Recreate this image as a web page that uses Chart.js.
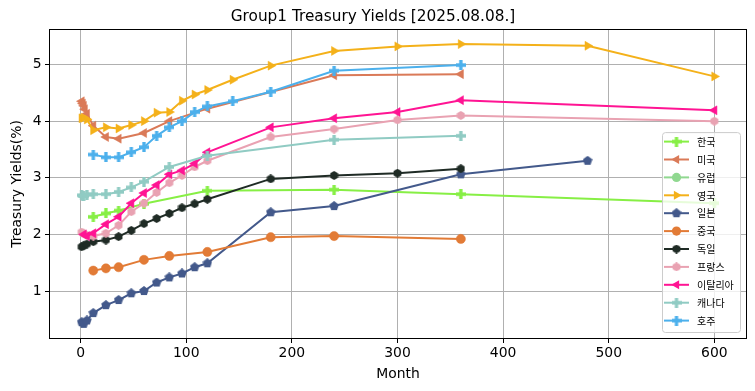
<!DOCTYPE html>
<html>
<head>
<meta charset="utf-8">
<script src="https://cdn.jsdelivr.net/npm/chart.js@4.4.1/dist/chart.umd.min.js"></script>
<style>
  html, body { margin: 0; padding: 0; background: #fff; }
  #wrap { width: 755px; height: 391px; }
</style>
</head>
<body>
<div id="wrap"><canvas id="myChart" width="755" height="391"></canvas></div>
<script>
// maturities (months) and yields (%) per country
const krMonths = [12, 24, 36, 60, 120, 240, 360, 600];
const krYields = [2.31, 2.37, 2.42, 2.54, 2.77, 2.79, 2.71, 2.55];

const usMonths = [1, 2, 3, 4, 6, 12, 24, 36, 60, 84, 120, 240, 360];
const usYields = [4.35, 4.31, 4.27, 4.21, 4.13, 3.92, 3.72, 3.69, 3.79, 4.0, 4.22, 4.81, 4.83];

const euMonths = [];
const euYields = [];

const ukMonths = [1, 3, 6, 12, 24, 36, 48, 60, 72, 84, 96, 108, 120, 144, 180, 240, 300, 360, 480, 600];
const ukYields = [4.05, 4.06, 4.03, 3.84, 3.89, 3.87, 3.93, 4.0, 4.15, 4.16, 4.36, 4.47, 4.55, 4.73, 4.98, 5.24, 5.32, 5.36, 5.33, 4.79];

const jpMonths = [1, 3, 6, 12, 24, 36, 48, 60, 72, 84, 96, 108, 120, 180, 240, 360, 480];
const jpYields = [0.45, 0.42, 0.48, 0.61, 0.75, 0.84, 0.96, 1.0, 1.15, 1.24, 1.31, 1.42, 1.49, 2.39, 2.5, 3.06, 3.3];

const cnMonths = [12, 24, 36, 60, 84, 120, 180, 240, 360];
const cnYields = [1.36, 1.40, 1.42, 1.55, 1.62, 1.69, 1.95, 1.97, 1.92];

const deMonths = [1, 3, 6, 12, 24, 36, 48, 60, 72, 84, 96, 108, 120, 180, 240, 300, 360];
const deYields = [1.78, 1.80, 1.83, 1.87, 1.90, 1.96, 2.07, 2.19, 2.28, 2.37, 2.47, 2.54, 2.62, 2.98, 3.04, 3.08, 3.16];

const frMonths = [1, 3, 6, 12, 24, 36, 48, 60, 72, 84, 96, 108, 120, 180, 240, 300, 360, 600];
const frYields = [2.04, 2.01, 1.98, 1.97, 2.02, 2.16, 2.4, 2.55, 2.74, 2.91, 3.04, 3.19, 3.3, 3.72, 3.86, 4.02, 4.1, 4.0];

const itMonths = [3, 6, 12, 24, 36, 48, 60, 72, 84, 96, 108, 120, 180, 240, 300, 360, 600];
const itYields = [2.0, 1.97, 2.02, 2.18, 2.31, 2.55, 2.73, 2.87, 3.06, 3.13, 3.25, 3.45, 3.89, 4.05, 4.16, 4.37, 4.19];

const caMonths = [1, 2, 3, 6, 12, 24, 36, 48, 60, 84, 120, 240, 360];
const caYields = [2.69, 2.68, 2.68, 2.7, 2.71, 2.71, 2.75, 2.83, 2.93, 3.19, 3.39, 3.67, 3.74];

const auMonths = [12, 24, 36, 48, 60, 72, 84, 96, 108, 120, 144, 180, 240, 360];
const auYields = [3.41, 3.36, 3.36, 3.45, 3.54, 3.74, 3.89, 4.0, 4.16, 4.26, 4.35, 4.52, 4.89, 4.99];

const yTicks = [1, 2, 3, 4, 5];
const xTicks = [0, 100, 200, 300, 400, 500, 600];

// small canvases for marker shapes chart.js doesn't have
function makeMarker(shape, color, size) {
  const c = document.createElement('canvas');
  c.width = size; c.height = size;
  const g = c.getContext('2d');
  const m = size / 2;
  g.fillStyle = color;
  g.beginPath();
  if (shape === 'plus') {
    const r = size / 2, a = r / 3;
    g.moveTo(m - a, m - r); g.lineTo(m + a, m - r); g.lineTo(m + a, m - a);
    g.lineTo(m + r, m - a); g.lineTo(m + r, m + a); g.lineTo(m + a, m + a);
    g.lineTo(m + a, m + r); g.lineTo(m - a, m + r); g.lineTo(m - a, m + a);
    g.lineTo(m - r, m + a); g.lineTo(m - r, m - a); g.lineTo(m - a, m - a);
  } else {
    const n = shape === 'pentagon' ? 5 : 6;
    const r = size / 2;
    for (let k = 0; k < n; k++) {
      const ang = -Math.PI / 2 + k * 2 * Math.PI / n;
      const px = m + r * Math.cos(ang), py = m + r * Math.sin(ang);
      if (k === 0) g.moveTo(px, py); else g.lineTo(px, py);
    }
  }
  g.closePath();
  g.fill();
  return c;
}

const series = [
  { name: '한국', months: krMonths, yields: krYields, color: '#87ef45', marker: 'plus' },
  { name: '미국', months: usMonths, yields: usYields, color: '#da7a58', marker: 'tri-left' },
  { name: '유럽', months: euMonths, yields: euYields, color: '#90d890', marker: 'circle' },
  { name: '영국', months: ukMonths, yields: ukYields, color: '#f4b11a', marker: 'tri-right' },
  { name: '일본', months: jpMonths, yields: jpYields, color: '#43598b', marker: 'pentagon' },
  { name: '중국', months: cnMonths, yields: cnYields, color: '#e27b36', marker: 'circle' },
  { name: '독일', months: deMonths, yields: deYields, color: '#1f2b25', marker: 'hexagon' },
  { name: '프랑스', months: frMonths, yields: frYields, color: '#e9a2b2', marker: 'hexagon' },
  { name: '이탈리아', months: itMonths, yields: itYields, color: '#ff1493', marker: 'tri-left' },
  { name: '캐나다', months: caMonths, yields: caYields, color: '#90cbc3', marker: 'plus' },
  { name: '호주', months: auMonths, yields: auYields, color: '#4cb0ec', marker: 'plus' }
];

const markerSize = { plus: 10, pentagon: 10, hexagon: 9 };

function pointOpts(s) {
  if (s.marker === 'circle') return { pointStyle: 'circle', pointRadius: 4.6, pointRotation: 0 };
  if (s.marker === 'tri-left') return { pointStyle: 'triangle', pointRadius: 5.2, pointRotation: -90 };
  if (s.marker === 'tri-right') return { pointStyle: 'triangle', pointRadius: 5.2, pointRotation: 90 };
  const size = markerSize[s.marker];
  return { pointStyle: makeMarker(s.marker, s.color, size), pointRadius: size / 2, pointRotation: 0 };
}

const datasets = series.map((s, i) => {
  const p = pointOpts(s);
  return {
    label: s.name,
    data: s.months.map((m, k) => ({ x: m, y: s.yields[k] })),
    borderColor: s.color,
    backgroundColor: s.color,
    borderWidth: 2,
    tension: 0,
    pointStyle: p.pointStyle,
    pointRadius: p.pointRadius,
    pointRotation: p.pointRotation,
    pointBorderWidth: 0.5,
    pointBorderColor: s.color,
    pointBackgroundColor: s.color,
    order: series.length - i
  };
});

// black frame round the plot, like matplotlib spines
const frame = {
  id: 'frame',
  afterDatasetsDraw(chart) {
    const { ctx, chartArea: a } = chart;
    ctx.save();
    ctx.strokeStyle = '#000';
    ctx.lineWidth = 1;
    ctx.strokeRect(Math.round(a.left) - 0.5, Math.round(a.top) - 0.5,
      Math.round(a.right - a.left) + 1, Math.round(a.bottom - a.top) + 1);
    ctx.restore();
  }
};

// legend box inside the plot, lower right
const legendBox = {
  id: 'legendBox',
  afterDraw(chart) {
    const { ctx, chartArea: a } = chart;
    const w = 78, rowH = 17.9;
    const h = series.length * rowH + 3;
    const x0 = a.right - 6 - w, y0 = a.bottom - 6 - h;
    ctx.save();
    ctx.beginPath();
    ctx.roundRect(x0 + 0.5, y0 + 0.5, w, h, 3);
    ctx.fillStyle = 'rgba(255,255,255,0.8)';
    ctx.fill();
    ctx.strokeStyle = '#cccccc';
    ctx.lineWidth = 1;
    ctx.stroke();
    series.forEach((s, i) => {
      const y = y0 + 9.5 + i * rowH;
      ctx.strokeStyle = s.color;
      ctx.lineWidth = 2;
      ctx.beginPath();
      ctx.moveTo(x0 + 2, y);
      ctx.lineTo(x0 + 27, y);
      ctx.stroke();
      const cx = x0 + 14.5;
      const p = pointOpts(s);
      ctx.fillStyle = s.color;
      if (typeof p.pointStyle !== 'string') {
        const sz = p.pointStyle.width;
        ctx.drawImage(p.pointStyle, cx - sz / 2, y - sz / 2);
      } else if (p.pointStyle === 'circle') {
        ctx.beginPath();
        ctx.arc(cx, y, p.pointRadius, 0, Math.PI * 2);
        ctx.fill();
      } else {
        const r = p.pointRadius;
        let rad = p.pointRotation * Math.PI / 180;
        ctx.beginPath();
        for (let k = 0; k < 3; k++) {
          const px = cx + Math.sin(rad) * r, py = y - Math.cos(rad) * r;
          if (k === 0) ctx.moveTo(px, py); else ctx.lineTo(px, py);
          rad += 2 * Math.PI / 3;
        }
        ctx.closePath();
        ctx.fill();
      }
      ctx.fillStyle = '#000';
      ctx.font = '10px "Noto Sans CJK KR"';
      ctx.textBaseline = 'middle';
      ctx.textAlign = 'left';
      ctx.fillText(s.name, x0 + 35, y + 0.5);
    });
    ctx.restore();
  }
};

Chart.defaults.color = '#000';
Chart.defaults.font.family = '"DejaVu Sans", sans-serif';

const ctx = document.getElementById('myChart').getContext('2d');
const myChart = new Chart(ctx, {
  type: 'line',
  data: { datasets: datasets },
  plugins: [frame, legendBox],
  options: {
    responsive: false,
    animation: false,
    layout: { padding: { left: 0, right: 9, top: 0, bottom: 0 } },
    scales: {
      x: {
        type: 'linear',
        min: -28.95,
        max: 629.95,
        afterFit(scale) { scale.height = 53; },
        afterBuildTicks(scale) { scale.ticks = xTicks.map(v => ({ value: v })); },
        grid: { color: '#b0b0b0', lineWidth: 1, tickColor: '#000', tickLength: 5, tickWidth: 1 },
        border: { display: false },
        ticks: { font: { size: 13.9 }, padding: 2, maxRotation: 0, includeBounds: false },
        title: { display: true, text: 'Month', font: { size: 13.9 }, padding: { top: 0, bottom: 8.7 } }
      },
      y: {
        type: 'linear',
        min: 0.17,
        max: 5.61,
        afterFit(scale) { scale.width = 50; },
        afterBuildTicks(scale) { scale.ticks = yTicks.map(v => ({ value: v })); },
        grid: { color: '#b0b0b0', lineWidth: 1, tickColor: '#000', tickLength: 5, tickWidth: 1 },
        border: { display: false },
        ticks: { font: { size: 13.9 }, padding: 3.5, includeBounds: false },
        title: { display: true, text: 'Treasury Yields(%)', font: { size: 13.9 }, padding: { top: 8.7, bottom: 0 } }
      }
    },
    plugins: {
      legend: { display: false },
      tooltip: { enabled: false },
      title: {
        display: true,
        text: 'Group1 Treasury Yields [2025.08.08.]',
        font: { size: 15.3, weight: 'normal' },
        color: '#000',
        padding: { top: 7.8, bottom: 3.8 }
      }
    }
  }
});
</script>
</body>
</html>
